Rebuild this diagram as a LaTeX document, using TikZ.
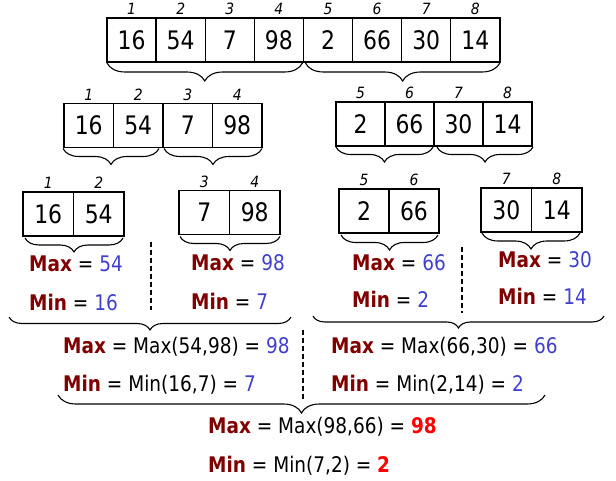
\documentclass[tikz,border=0pt]{standalone}
\usepackage{fontspec}
\setmainfont{DejaVu Sans}
\newfontfamily\labfont[FakeStretch=0.86]{DejaVu Sans}
\newfontfamily\cellfont[FakeStretch=0.86]{DejaVu Sans}
\newfontfamily\idxfont[FakeStretch=0.9]{DejaVu Sans}
\usetikzlibrary{decorations.pathreplacing,positioning}
\definecolor{maroonc}{HTML}{800000}
\definecolor{bluec}{HTML}{4040CC}
\definecolor{redc}{HTML}{FF0000}
\newcommand{\kmax}{{\bfseries\color{maroonc}Max}}
\newcommand{\kmin}{{\bfseries\color{maroonc}Min}}
\newcommand{\bv}[1]{{\color{bluec}#1}}
\newcommand{\rv}[1]{{\bfseries\color{redc}#1}}
\begin{document}
\begin{tikzpicture}[x=1pt,y=1pt,
  cell/.style={draw, line width=1.4pt, outer sep=0pt, inner sep=0pt,
    minimum width=#1, minimum height=44pt, font=\cellfont\fontsize{25.5}{29}\selectfont},
  cell/.default=49.1pt,
  idx/.style={inner sep=0pt, font=\idxfont\fontsize{15.5}{17}\selectfont\itshape},
  brc/.style={decorate, decoration={brace, amplitude=#1}, line width=1.1pt},
  brc/.default=15pt,
  lab/.style={anchor=base west, inner sep=0pt, font=\labfont\fontsize{21.5}{25}\selectfont},
  dline/.style={dash pattern=on 5pt off 3pt, line width=1.2pt}]
\useasboundingbox (0,0) rectangle (616,-481);

% ---- top row
\node[cell] (t1) at (131.6,-40) {16};
\node[cell] (t2) at (180.7,-40) {54};
\node[cell] (t3) at (229.8,-40) {7};
\node[cell] (t4) at (278.9,-40) {98};
\node[cell] (t5) at (328.0,-40) {2};
\node[cell] (t6) at (377.1,-40) {66};
\node[cell] (t7) at (426.2,-40) {30};
\node[cell] (t8) at (475.3,-40) {14};
\foreach \i in {1,...,8} \node[idx, above=3pt of t\i] (ti\i) {\i};
\draw[brc=18pt] ([xshift=-1pt,yshift=-1pt]t4.south east) -- ([yshift=-1pt]t1.south west);
\draw[brc=18pt] ([yshift=-1pt]t8.south east) -- ([xshift=2pt,yshift=-1pt]t5.south west);

% ---- second row, left
\node[cell=49.5pt] (a1) at (88.75,-125.5) {16};
\node[cell=49.5pt] (a2) at (138.25,-125.5) {54};
\node[cell=49.5pt] (a3) at (187.75,-125.5) {7};
\node[cell=49.5pt] (a4) at (237.25,-125.5) {98};
\node[idx, above=3pt of a1] (ai1) {1};
\node[idx, above=3pt of a2] (ai2) {2};
\node[idx, above=3pt of a3] (ai3) {3};
\node[idx, above=3pt of a4] (ai4) {4};
\draw[brc=16pt] ([xshift=-4pt,yshift=-1pt]a2.south east) -- ([xshift=-1pt,yshift=-1pt]a1.south west);
\draw[brc=16pt] ([yshift=-1pt]a4.south east) -- ([xshift=1pt,yshift=-1pt]a3.south west);

% ---- second row, right
\node[cell=49pt] (b1) at (360.5,-124) {2};
\node[cell=49pt] (b2) at (409.5,-124) {66};
\node[cell=49pt] (b3) at (458.5,-124) {30};
\node[cell=49pt] (b4) at (507.5,-124) {14};
\node[idx, above=3pt of b1] (bi1) {5};
\node[idx, above=3pt of b2] (bi2) {6};
\node[idx, above=3pt of b3] (bi3) {7};
\node[idx, above=3pt of b4] (bi4) {8};
\draw[brc=15pt] ([xshift=-1pt,yshift=-1pt]b2.south east) -- ([yshift=-1pt]b1.south west);
\draw[brc=15pt] ([xshift=1pt,yshift=-1pt]b4.south east) -- ([xshift=3pt,yshift=-1pt]b3.south west);

% ---- third row
\node[cell=50.5pt] (c1) at (48.25,-214) {16};
\node[cell=50.5pt] (c2) at (98.75,-214) {54};
\node[cell=50.5pt] (d1) at (204.25,-212.5) {7};
\node[cell=50.5pt] (d2) at (254.75,-212.5) {98};
\node[cell=50pt] (e1) at (364,-211) {2};
\node[cell=50pt] (e2) at (414,-211) {66};
\node[cell=50.5pt] (f1) at (506.25,-210) {30};
\node[cell=50.5pt] (f2) at (556.75,-210) {14};
\node[idx, above=3pt of c1] (ci1) {1};
\node[idx, above=3pt of c2] (ci2) {2};
\node[idx, above=3pt of d1] (di1) {3};
\node[idx, above=3pt of d2] (di2) {4};
\node[idx, above=3pt of e1] (ei1) {5};
\node[idx, above=3pt of e2] (ei2) {6};
\node[idx, above=3pt of f1] (fi1) {7};
\node[idx, above=3pt of f2] (fi2) {8};
\draw[brc=14pt] ([xshift=-1pt,yshift=-2pt]c2.south east) -- ([xshift=2pt,yshift=-2pt]c1.south west);
\draw[brc=14pt] ([yshift=-2pt]d2.south east) -- ([xshift=1pt,yshift=-2pt]d1.south west);
\draw[brc=15pt] ([xshift=-1pt,yshift=-2pt]e2.south east) -- ([xshift=2pt,yshift=-2pt]e1.south west);
\draw[brc=16pt] ([xshift=-2pt,yshift=-1pt]f2.south east) -- ([xshift=1pt,yshift=-1pt]f1.south west);

% ---- dashed separators
\coordinate (s1a) at (151,-242); \coordinate (s1b) at (151,-310);
\coordinate (s2a) at (462,-247); \coordinate (s2b) at (462,-313);
\coordinate (s3a) at (303,-330); \coordinate (s3b) at (303,-400);
\draw[dline] (s1a) -- (s1b);
\draw[dline] (s2a) -- (s2b);
\draw[dline] (s3a) -- (s3b);

% ---- third row results
\node[lab] (m1) at (29,-272) {\kmax{} = \bv{54}};
\node[lab] (n1) at (29,-310) {\kmin{} = \bv{16}};
\node[lab] (m2) at (191,-271) {\kmax{} = \bv{98}};
\node[lab] (n2) at (191,-309) {\kmin{} = \bv{7}};
\node[lab] (m3) at (352,-270) {\kmax{} = \bv{66}};
\node[lab] (n3) at (352,-307) {\kmin{} = \bv{2}};
\node[lab] (m4) at (498,-268) {\kmax{} = \bv{30}};
\node[lab] (n4) at (498,-305) {\kmin{} = \bv{14}};

% ---- big braces
\coordinate (L1) at (9,-317); \coordinate (L2) at (291,-317);
\coordinate (R1) at (313,-316); \coordinate (R2) at (604,-316);
\draw[brc=13pt] (L2) -- (L1);
\draw[brc=12pt] (R2) -- (R1);

% ---- fourth row results
\node[lab] (m5) at (63,-353) {\kmax{} = Max(54,98) = \bv{98}};
\node[lab] (n5) at (63,-391) {\kmin{} = Min(16,7) = \bv{7}};
\node[lab] (m6) at (331,-353) {\kmax{} = Max(66,30) = \bv{66}};
\node[lab] (n6) at (331,-391) {\kmin{} = Min(2,14) = \bv{2}};

\coordinate (B1) at (58,-395); \coordinate (B2) at (545,-395);
\draw[brc=18pt] (B2) -- (B1);

% ---- final result
\node[lab] (m7) at (208,-433) {\kmax{} = Max(98,66) = \rv{98}};
\node[lab] (n7) at (208,-472) {\kmin{} = Min(7,2) = \rv{2}};
\end{tikzpicture}
\end{document}
